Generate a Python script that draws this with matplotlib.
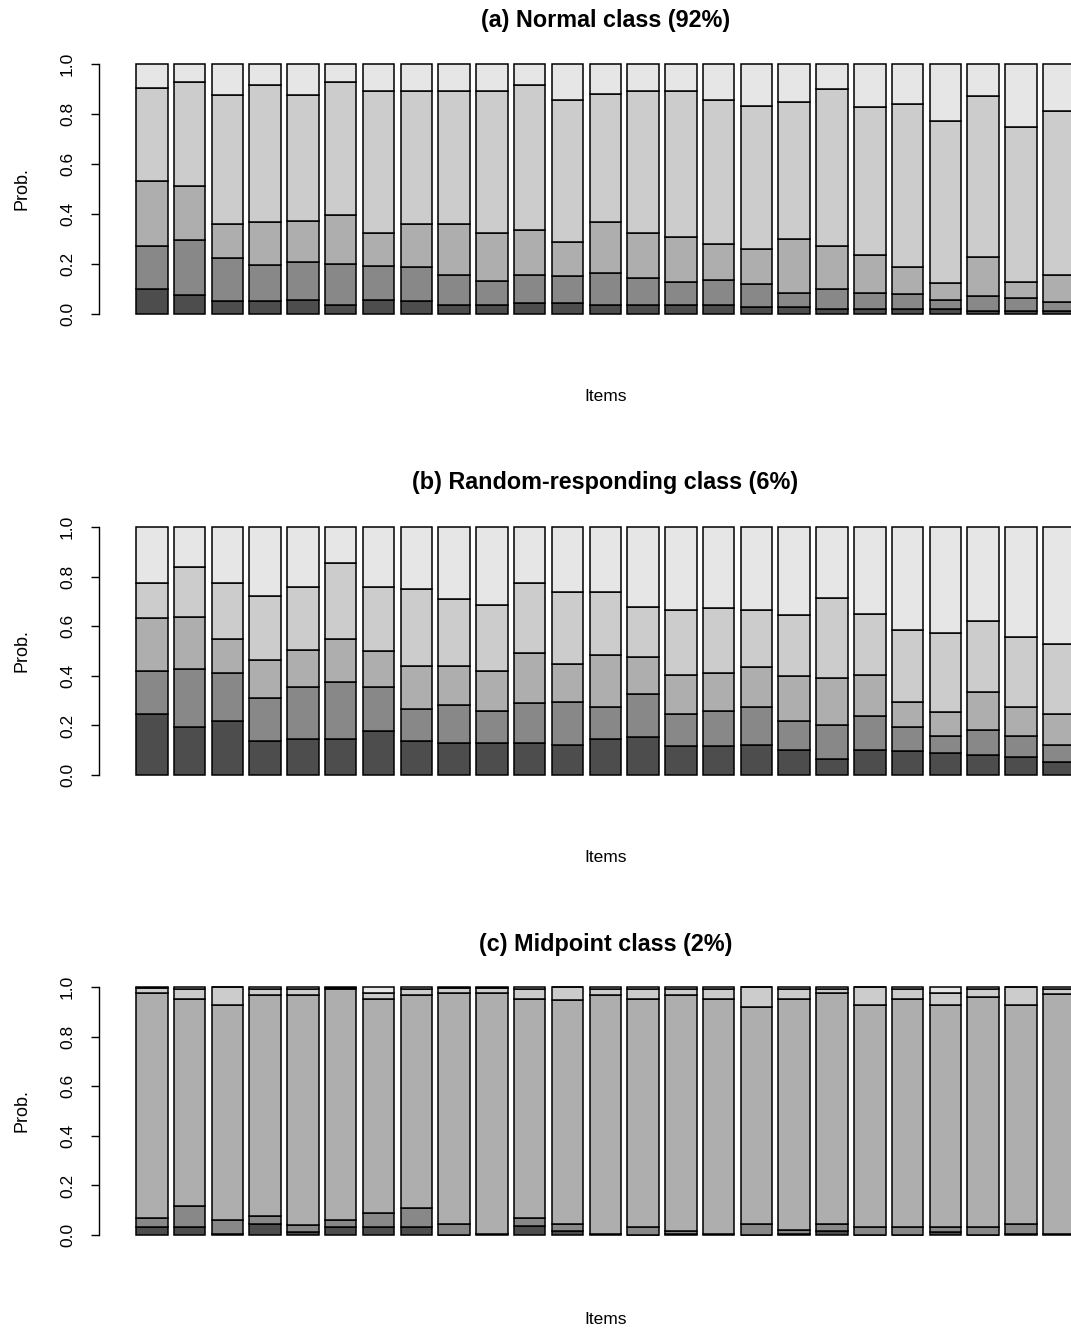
import numpy as np
import matplotlib
matplotlib.use("Agg")
import matplotlib.pyplot as plt

plt.rcParams['font.family'] = ['Liberation Sans', 'DejaVu Sans']

W, H = 1071, 1330

# item indices (25 items, last one clipped by the right edge)
items = np.arange(1, 26)

# cumulative cut points (top of category 1..4)
# (a) Normal class
a_cut1 = [0.101, 0.077, 0.051, 0.051, 0.057, 0.036, 0.057, 0.051, 0.036, 0.036, 0.044, 0.044, 0.036,
          0.036, 0.036, 0.036, 0.028, 0.028, 0.021, 0.021, 0.021, 0.021, 0.013, 0.013, 0.013]
a_cut2 = [0.272, 0.295, 0.223, 0.195, 0.208, 0.200, 0.192, 0.187, 0.157, 0.131, 0.157, 0.151, 0.164,
          0.143, 0.128, 0.136, 0.120, 0.085, 0.100, 0.085, 0.079, 0.057, 0.071, 0.064, 0.049]
a_cut3 = [0.531, 0.511, 0.360, 0.367, 0.373, 0.396, 0.324, 0.360, 0.360, 0.324, 0.337, 0.288, 0.367,
          0.324, 0.308, 0.280, 0.260, 0.301, 0.273, 0.237, 0.187, 0.123, 0.229, 0.129, 0.157]
a_cut4 = [0.905, 0.928, 0.876, 0.915, 0.876, 0.928, 0.891, 0.891, 0.891, 0.891, 0.915, 0.856, 0.879,
          0.892, 0.892, 0.856, 0.833, 0.848, 0.900, 0.828, 0.841, 0.771, 0.871, 0.748, 0.813]

# (b) Random-responding class
b_cut1 = [0.245, 0.195, 0.217, 0.139, 0.145, 0.145, 0.177, 0.139, 0.131, 0.131, 0.131, 0.123, 0.145,
          0.153, 0.116, 0.116, 0.123, 0.102, 0.066, 0.102, 0.095, 0.087, 0.080, 0.074, 0.051]
b_cut2 = [0.419, 0.427, 0.412, 0.311, 0.353, 0.376, 0.353, 0.266, 0.281, 0.260, 0.289, 0.296, 0.274,
          0.327, 0.246, 0.260, 0.274, 0.217, 0.203, 0.238, 0.195, 0.159, 0.181, 0.159, 0.123]
b_cut3 = [0.633, 0.636, 0.550, 0.462, 0.506, 0.550, 0.498, 0.440, 0.440, 0.419, 0.491, 0.448, 0.485,
          0.477, 0.405, 0.412, 0.434, 0.398, 0.391, 0.405, 0.296, 0.253, 0.333, 0.274, 0.246]
b_cut4 = [0.775, 0.839, 0.775, 0.722, 0.758, 0.854, 0.758, 0.751, 0.708, 0.685, 0.775, 0.739, 0.739,
          0.679, 0.665, 0.672, 0.665, 0.644, 0.715, 0.651, 0.586, 0.572, 0.622, 0.557, 0.529]

# (c) Midpoint class
c_cut1 = [0.031, 0.031, 0.006, 0.046, 0.014, 0.031, 0.031, 0.031, 0.002, 0.004, 0.035, 0.015, 0.003,
          0.002, 0.005, 0.004, 0.002, 0.003, 0.015, 0.002, 0.002, 0.012, 0.002, 0.003, 0.004]
c_cut2 = [0.067, 0.119, 0.060, 0.076, 0.040, 0.060, 0.090, 0.111, 0.046, 0.006, 0.067, 0.045, 0.006,
          0.031, 0.016, 0.006, 0.046, 0.019, 0.046, 0.031, 0.031, 0.031, 0.031, 0.046, 0.006]
c_cut3 = [0.976, 0.953, 0.928, 0.969, 0.969, 0.990, 0.953, 0.969, 0.977, 0.976, 0.953, 0.949, 0.969,
          0.953, 0.969, 0.953, 0.918, 0.953, 0.976, 0.926, 0.950, 0.926, 0.960, 0.926, 0.973]
c_cut4 = [0.996, 0.990, 0.998, 0.990, 0.990, 0.995, 0.977, 0.990, 0.997, 0.997, 0.990, 0.998, 0.990,
          0.990, 0.990, 0.990, 0.998, 0.990, 0.992, 0.998, 0.990, 0.976, 0.990, 0.998, 0.990]

titles = ["(a) Normal class (92%)", "(b) Random-responding class (6%)", "(c) Midpoint class (2%)"]
panels = [(a_cut1, a_cut2, a_cut3, a_cut4),
          (b_cut1, b_cut2, b_cut3, b_cut4),
          (c_cut1, c_cut2, c_cut3, c_cut4)]
yticks = [0.0, 0.2, 0.4, 0.6, 0.8, 1.0]

# R gray.colors(5)
colors = ["#4D4D4D", "#888888", "#AEAEAE", "#CCCCCC", "#E6E6E6"]

# pixel layout: (plot top, plot bottom, title y, xlabel y)
layout = [(54, 324, 20, 397), (517, 785, 482, 858), (977, 1245, 944, 1319)]
ax_left, ax_right = 98.5, 1112

fig = plt.figure(figsize=(W / 100, H / 100), dpi=100)

# barplot geometry (width 1, space 0.2)
lefts = 0.2 + 1.2 * (items - 1)
xmin, xmax = lefts[0], lefts[-1] + 1
pad = 0.04 * (xmax - xmin)

for (top, bot, ty, ly), cuts, title in zip(layout, panels, titles):
    ax = fig.add_axes([ax_left / W, 1 - bot / H, (ax_right - ax_left) / W, (bot - top) / H])
    bounds = [np.zeros(len(items))] + [np.array(c) for c in cuts] + [np.ones(len(items))]
    for k in range(5):
        ax.bar(lefts, bounds[k + 1] - bounds[k], width=1.0, bottom=bounds[k], align='edge',
               color=colors[k], edgecolor='black', linewidth=1.1)
    ax.set_xlim(xmin - pad, xmax + pad)
    ax.set_ylim(-0.04, 1.04)
    for s in ['top', 'right', 'bottom']:
        ax.spines[s].set_visible(False)
    ax.spines['left'].set_bounds(0, 1)
    ax.spines['left'].set_linewidth(1.0)
    ax.set_xticks([])
    ax.set_yticks(yticks)
    ax.set_yticklabels(["%.1f" % v for v in yticks], rotation=90, va='center', fontsize=12.5)
    ax.tick_params(axis='y', length=6, width=1.0, pad=11)

    cx = (ax_left + ax_right) / 2 / W
    fig.text(cx, 1 - ty / H, title, ha='center', va='center', fontsize=16.8, fontweight='bold')
    fig.text(cx, 1 - ly / H, "Items", ha='center', va='center', fontsize=12.5)
    fig.text(22 / W, 1 - (top + bot) / 2 / H, "Prob.", ha='center', va='center',
             rotation=90, fontsize=13)

fig.savefig("out.png", dpi=100)
